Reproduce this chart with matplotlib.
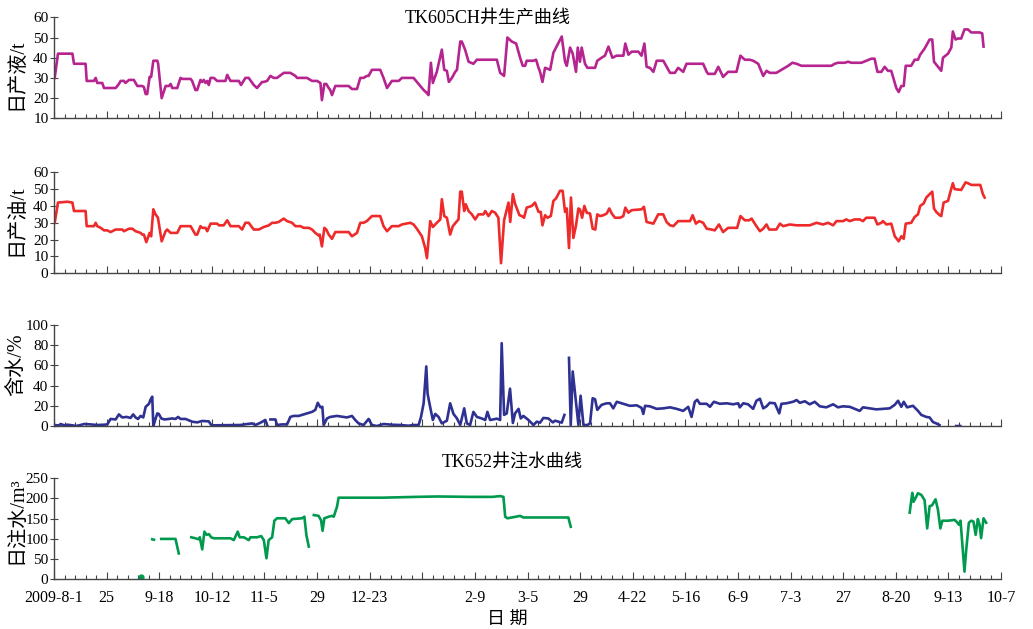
import numpy as np
import matplotlib
matplotlib.use("Agg")
import matplotlib.pyplot as plt
from matplotlib.ticker import AutoMinorLocator

plt.rcParams['font.family'] = ['Liberation Serif', 'Noto Sans CJK SC']

nan = np.nan

# x is days since 2009-8-1
tick_labels = ['2009-8-1', '25', '9-18', '10-12', '11-5', '29', '12-23', '', '2-9',
               '3-5', '29', '4-22', '5-16', '6-9', '7-3', '27', '8-20', '9-13', '10-7']

# daily liquid (t)
liq_day = [0.3, 1.8, 8.4, 9.1, 14.4, 14.9, 18.2, 19.0, 19.7, 22.0, 22.8, 28.1, 29.6, 30.4, 31.9, 32.6,
           34.2, 36.4, 38.0, 40.2, 41.0, 41.8, 42.5, 43.6, 44.3, 45.3, 47.1, 47.5, 49.1, 50.9, 52.4,
           53.2, 53.9, 56.2, 57.7, 58.5, 62.3, 63.0, 64.5, 65.3, 66.8, 67.6, 68.3, 69.1, 69.9, 70.6,
           71.4, 72.9, 74.4, 78.2, 79.0, 80.5, 84.3, 85.3, 87.3, 88.8, 91.1, 92.6, 94.9, 95.7, 97.2,
           98.7, 100.2, 101.7, 104.8, 107.8, 110.1, 110.9, 115.4, 117.7, 120.0, 121.5, 122.2, 123.3,
           124.2, 125.3, 126.0, 126.8, 128.3, 134.4, 135.9, 138.2, 139.7, 141.2, 142.7, 143.5, 145.0,
           148.8, 150.3, 151.9, 154.1, 157.2, 158.7, 164.0, 166.3, 168.6, 170.1, 170.8, 171.9, 172.8,
           174.6, 176.9, 178.0, 179.2, 180.1, 181.5, 183.0, 183.8, 185.3, 186.0, 187.5, 189.1, 191.3,
           192.9, 202.0, 203.5, 205.3, 206.8, 208.8, 210.8, 212.6, 213.8, 214.9, 215.6, 218.7, 219.9,
           221.0, 221.7, 222.8, 224.0, 226.3, 227.8, 229.0, 231.6, 233.1, 233.9, 235.4, 236.6, 238.1,
           238.9, 239.9, 240.7, 242.2, 243.3, 246.8, 247.8, 249.8, 251.3, 252.9, 254.7, 256.6, 259.7,
           260.6, 262.0, 263.5, 266.5, 268.0, 269.3, 270.3, 271.8, 273.4, 274.9, 277.9, 281.0, 283.2,
           284.7, 287.0, 288.5, 296.1, 297.7, 298.4, 301.4, 303.0, 305.2, 307.5, 311.3, 313.1, 315.1,
           317.4, 318.9, 321.2, 323.5, 325.0, 326.5, 329.5, 332.6, 334.9, 336.8, 338.7, 340.9, 354.6,
           356.1, 357.6, 360.7, 362.2, 363.7, 368.3, 370.5, 372.8, 374.3, 375.6, 377.4, 378.9, 380.4,
           381.9, 384.2, 385.3, 386.5, 387.6, 388.5, 391.0, 392.6, 394.1, 395.1, 397.1, 399.4, 400.6,
           401.4, 404.0, 404.7, 405.5, 407.8, 409.3, 410.0, 411.2, 412.3, 413.8, 415.3, 416.9, 418.4,
           422.2, 423.4, 424.0]
liq_val = [30, 42, 42, 37, 37, 28.5, 28.5, 30, 27.5, 27.5, 25, 25, 27, 28.5, 28.5, 27.5,
           29, 29, 26, 26, 25.5, 22, 22, 30.5, 30.5, 38.5, 38.5, 37, 20, 26, 26,
           27, 25, 25, 30, 29.5, 29.5, 28.5, 24, 24, 29, 28, 29, 27.5, 28.5, 26.5,
           30, 30, 28.5, 28.5, 31.5, 28.5, 28.5, 26.5, 30, 30, 26.5, 25, 28, 28, 28.5,
           31, 30, 30, 32.5, 32.5, 31, 30, 30, 28.5, 28.5, 27.5, 19, 27,
           27, 25, 24, 21.5, 26, 26, 24.5, 24.5, 30, 30, 31, 31, 34,
           34, 30, 25, 28.5, 28.5, 30, 30, 27, 24, 22.5, 21.5, 37.5, 27.5,
           33, 44, 34, 33.5, 28, 30, 33, 34, 48, 48, 44, 38, 37,
           39, 39, 32.5, 31, 50, 48, 47, 40, 36, 36, 38.5, 38.5, 39,
           35, 33, 28, 35, 34, 42.5, 45, 50.5, 38, 36, 45, 42, 33,
           45, 38, 45, 37, 35, 35, 38.5, 40, 41, 45.5, 40, 41, 41,
           47, 41.5, 43, 43, 41, 47, 35.5, 35, 33, 38.5, 38.5, 32.5, 32.5,
           35, 33, 37, 37, 33, 32, 32, 35.5, 30.5, 33, 33, 41, 39,
           39, 38.5, 37, 31, 33.5, 32.5, 32.5, 34.5, 36, 37.5, 37, 36, 36,
           37, 37.5, 37.5, 38, 37.5, 37.5, 38.5, 39.5, 39.5, 33, 33, 35.5, 33.5,
           33.5, 25, 23, 26, 26, 36, 36, 39, 39, 41.5, 44.5, 49, 49,
           38, 34.5, 33.5, 40, 42, 45, 53, 49, 49.5, 49.5, 54, 54, 52.5,
           52.5, 52, 45.5]

# daily oil (t)
oil_day = [0.3, 1.8, 6.1, 8.4, 9.1, 14.4, 14.9, 18.2, 19.0, 19.7, 21.3, 22.8, 24.3, 25.8, 28.1, 31.1,
           31.9, 34.2, 35.7, 37.2, 39.5, 40.2, 41.0, 42.1, 43.6, 44.3, 45.3, 46.3, 47.4, 49.1, 50.9,
           51.6, 53.2, 56.2, 57.7, 62.3, 64.5, 65.3, 66.8, 67.6, 69.1, 69.9, 71.4, 74.4, 75.2, 77.4,
           79.0, 80.5, 84.3, 85.8, 87.3, 88.8, 91.1, 93.4, 95.7, 98.0, 99.5, 101.0, 102.5, 104.8,
           106.3, 108.6, 110.1, 112.4, 113.9, 116.2, 117.7, 119.2, 120.7, 121.2, 122.2, 123.3, 124.2,
           125.3, 126.8, 128.3, 134.4, 135.9, 138.2, 139.7, 141.2, 142.7, 145.0, 148.8, 150.3, 151.9,
           154.1, 157.2, 158.7, 162.5, 164.0, 165.5, 167.8, 169.3, 170.1, 171.6, 172.8, 174.6, 176.2,
           176.9, 178.0, 179.2, 180.7, 181.9, 183.8, 184.5, 185.3, 186.0, 187.1, 187.8, 189.1, 190.6,
           192.1, 193.6, 195.9, 196.7, 198.2, 199.7, 201.2, 202.7, 203.9, 205.3, 207.3, 208.1, 209.3,
           210.3, 212.3, 213.4, 214.4, 215.6, 217.9, 219.4, 221.0, 222.0, 222.8, 224.0, 225.1, 226.6,
           227.8, 229.0, 230.8, 232.0, 233.1, 233.9, 234.9, 235.8, 236.9, 238.1, 239.2, 239.9, 240.9,
           241.9, 243.0, 244.5, 245.7, 246.9, 247.8, 249.1, 250.6, 252.1, 253.3, 254.4, 255.9, 258.2,
           259.7, 260.6, 262.0, 263.5, 268.0, 269.1, 270.3, 273.4, 275.6, 277.9, 279.4, 281.0, 282.5,
           284.7, 290.1, 291.3, 292.8, 294.3, 296.1, 297.7, 299.9, 301.4, 303.3, 305.2, 307.5, 311.6,
           313.1, 315.1, 317.1, 318.2, 320.4, 322.0, 323.5, 325.0, 326.2, 329.5, 331.1, 332.6, 335.6,
           338.7, 344.7, 347.8, 350.8, 353.1, 355.4, 356.9, 359.9, 361.4, 363.0, 365.2, 367.5, 369.0,
           370.5, 374.3, 375.6, 377.4, 378.1, 379.7, 381.9, 383.5, 385.3, 386.5, 387.6, 388.5, 391.0,
           392.6, 394.1, 395.1, 396.7, 397.9, 399.4, 400.6, 401.4, 402.4, 404.0, 404.7, 405.8, 407.8,
           408.8, 410.0, 410.8, 413.8, 415.8, 416.9, 418.4, 422.5, 423.7, 424.5]
oil_val = [30, 42, 42.5, 42, 37, 37, 28, 28, 30, 28, 27, 25.5, 25.5, 24.5, 26, 26,
           25, 26.5, 26.5, 25, 24, 23, 23, 18.5, 24, 22, 38, 35, 33, 19, 25,
           26, 24, 24, 28, 28, 23, 23, 28, 27, 27, 25, 29.5, 29.5, 28.5, 28.5,
           31.5, 28, 28, 26, 30, 30, 26, 26, 27.5, 28.5, 30, 30, 30.5, 32.5,
           31, 30, 28, 28, 27, 27, 26, 24, 22.5, 23, 16, 27, 26,
           23, 20.5, 24.5, 24.5, 22, 24, 30, 30, 31, 34, 34, 28, 25,
           28, 28, 29, 30, 29, 26.5, 22, 15, 9, 31, 27.5, 30, 32,
           44, 34, 33, 23, 28, 31, 32, 48.5, 48.5, 37, 41, 37, 35,
           32, 35, 35, 37, 34, 37, 36, 33, 6, 31.5, 42, 30.5, 47,
           41.3, 34.5, 34, 33, 39, 40, 42, 36.5, 36.5, 28.5, 34.5, 33, 34,
           43, 44.5, 49, 49, 36.5, 38.5, 15, 45, 21, 28.5, 38.5, 38, 33,
           40, 36, 35.5, 26.5, 26, 35, 34, 34.5, 35.5, 38.5, 35.5, 33, 33,
           34, 39, 36, 37.5, 38, 39.5, 30.5, 29.5, 35, 35, 30.5, 28.5, 28,
           31, 31, 34.5, 29.5, 31, 30, 26.5, 26, 25.5, 29, 24.5, 27, 27,
           34, 31.5, 31.5, 32.5, 28, 25, 26.5, 29, 26, 26, 29.5, 28, 29,
           28.5, 28.5, 30, 29, 30, 28.5, 31, 31, 32, 31, 32, 32, 31,
           33, 33, 29, 30, 31, 29, 29.5, 22, 19, 22, 20.5, 29.5, 30,
           33.5, 35, 40, 41.5, 45, 47, 48.5, 38.5, 36.5, 34.5, 34, 42, 43,
           48, 53.5, 50, 49.5, 54, 53.5, 52.5, 52.5, 47, 45]

# water cut (%)
wc_day = [0.3, 2.3, 3.0, 4.6, 6.1, 8.4, 9.9, 12.1, 13.7, 16.7, 19.7, 22.8, 24.3, 25.8, 28.1, 29.6,
          31.1, 33.1, 34.9, 36.1, 37.2, 38.3, 39.5, 40.7, 41.8, 43.3, 44.0, 44.8, 45.3, 45.9, 47.1,
          47.8, 48.9, 50.4, 52.4, 53.9, 55.4, 56.6, 57.7, 60.0, 63.0, 65.3, 67.6, 70.6, 71.7, 72.9,
          82.0, 85.0, 88.1, 90.4, 91.9, 94.2, 96.4, 97.2, 97.9, 98.7, 101.0, 101.7, 104.0, 106.3,
          107.8, 109.3, 111.6, 113.1, 115.4, 117.7, 119.2, 120.3, 121.5, 122.4, 123.0, 124.5, 126.0,
          129.1, 133.6, 135.9, 137.4, 138.9, 141.2, 143.5, 145.0, 147.3, 150.3, 154.1, 157.9, 161.7,
          164.0, 166.3, 167.4, 168.6, 169.8, 170.4, 171.6, 172.8, 173.9, 175.4, 176.9, 179.2, 180.7,
          182.2, 183.8, 185.3, 187.1, 188.3, 189.8, 191.3, 192.9, 195.1, 196.7, 197.7, 198.9, 200.5,
          202.0, 203.5, 204.2, 205.3, 206.5, 208.0, 209.3, 210.3, 211.9, 212.9, 214.1, 216.4, 218.7,
          220.2, 221.7, 223.2, 225.5, 227.5, 228.6, 230.1, 231.6, 232.8, 233.8, 234.9, 235.7, 236.6,
          237.7, 239.2, 240.2, 241.5, 243.3, 244.5, 245.7, 246.8, 247.8, 249.8, 252.1, 253.6, 255.1,
          256.7, 259.7, 262.7, 265.8, 268.0, 268.8, 269.6, 271.8, 274.9, 277.9, 281.0, 284.0, 287.0,
          289.3, 290.8, 292.3, 293.4, 294.6, 297.7, 299.2, 301.0, 303.7, 306.8, 309.8, 312.1, 312.8,
          314.4, 316.6, 318.9, 320.4, 322.0, 323.5, 325.0, 326.5, 328.8, 330.8, 331.8, 334.1, 337.1,
          338.7, 340.2, 342.5, 344.7, 347.0, 349.3, 352.3, 355.4, 357.6, 359.9, 363.0, 365.2, 367.5,
          369.0, 372.1, 375.1, 378.1, 381.2, 383.5, 385.0, 386.5, 387.6, 389.1, 391.8, 394.1, 395.6,
          397.9, 399.4, 400.9, 402.4, 403.9, 407.0, 411.5, 413.4]
wc_val = [1, 0.5, 2, 0.7, 1.3, 0.7, 0, 1, 2, 1.6, 1, 1.3, 1.6, 7, 6.5, 11.5,
          8.5, 9, 8, 11.5, 8.5, 7, 10, 8.5, 19, 22, 26, 29, 0, 4.3, 12.5,
          12, 7.5, 6.5, 7, 7.5, 7, 9, 7, 7, 4.3, 3.6, 5, 4.6, 1, 0.7,
          1, 1, 2, 2.6, 1, 3.3, 6, 1, nan, 6.5, 6.5, 1, 1.6, 1.6,
          9, 10, 10, 11, 12.5, 14, 16, 23, 18.5, 19, 1, 7.5, 9,
          10, 8.5, 10, 6, 2.6, 1, 7, 1, 0, 2, 1.3, 1, 0.3,
          1, 1, 9, 22.5, 59, 32, 18.5, 6, 12, 9, 2.6, 5.3, 22.5,
          12, 7.5, 1, 17.5, 2.6, 1, 14, 9, 7.5, 6, 14, 6, 6.6,
          7.3, 6, 82, 11, 12.5, 37, 3, 12.5, 17, 7.5, 10, 6, 1,
          4.3, 3.3, 8, 7.5, 3.6, 5.3, 4.3, 3.3, 11, nan, 67.5, 1, 54,
          32, 1, 30, 1, 1, 2.6, 27.5, 26.5, 16, 21, 22.5, 22.5, 17.5,
          24, 22, 20, 20.5, 18, 12, 20, 19.5, 17, 17.5, 18.5, 17, 15,
          19, 9, 24, 26, 22, 22, 19, 24, 22, 22.5, 21.5, 22.5, 18.5,
          22.5, 21.5, 17, 25, 27, 17.5, 19.5, 23, 22.5, 12.5, 22, 22.5, 24,
          25.7, 23, 24.5, 21.5, 24, 19.5, 18.5, 21.5, 18.5, 19.5, 19, 17, 15,
          18.5, 17.5, 16.5, 17, 17.5, 21, 25, 19, 24, 18.5, 20, 15, 11,
          9, 8.5, 4, 2.6, 1, nan, 0, 0]

# daily injection (m3), nan = no injection
inj_day = [44.8, 45.6, 46.5,
           48.9, 55.4, 56.2, 56.9, 58.0,
           62.6, 64.5, 66.1, 66.5, 67.6, 68.6, 69.6, 70.6, 71.7, 72.9, 80.5, 82.0, 83.8, 84.7, 86.6,
           88.8, 89.6, 92.6, 94.5, 95.7, 96.9, 97.9, 99.5, 100.5, 101.7, 105.5, 107.1, 108.6, 113.1,
           114.2, 115.1, 116.2, 117.0,
           118.5, 120.7, 121.8, 122.5, 123.3, 125.3, 126.8, 127.6, 129.1, 129.8, 132.1, 150.0, 165.0,
           175.0, 190.0, 200.0, 203.5, 205.0, 205.8, 206.8, 208.8, 212.6, 214.1, 234.6, 235.7, 237.0,
           390.3, 391.5, 392.1, 394.1, 395.6, 397.1, 398.3, 399.4, 400.5, 402.1, 403.2, 404.3, 405.2,
           407.8, 410.8, 411.8, 412.8, 413.5, 414.3, 415.3, 416.1, 417.3, 418.4, 419.4, 420.4, 421.4,
           422.2, 422.9, 424.0, 425.2]
inj_val = [99, 98, nan,
           100, 100, 81, 64, nan,
           104, 101.5, 99, 104, 74, 118, 110, 112, 104, 101.5, 101.5, 97, 118, 104, 104,
           97, 104, 104, 107, 97, 52, 97, 104, 145, 151, 151, 139, 149, 151,
           155, 110, 81, nan,
           159, 157, 146, 120, 151, 155, 157, 155, 180, 202, 202, 202, 204,
           205, 204, 204, 206, 204, 155, 151, 153, 157, 153, 153, 130, nan,
           165, 214, 192, 213, 209, 196, 126, 181, 183, 198, 172, 126, 145,
           145, 147, 142, 135, 145, 89, 19, 73, 140, 145, 143, 110, 149,
           135, 102, 151, 140]
inj_dot_day = [39.5]
inj_dot_val = [6]

fig = plt.figure(figsize=(10.33, 6.29), dpi=100)
left, width = 0.0523, 0.9168
boxes = [0.8119, 0.5655, 0.3227, 0.0790]
height = 0.1606

series = [(liq_day, liq_val, '#b5248f', (10, 60), 10),
          (oil_day, oil_val, '#ee2a2a', (0, 60), 10),
          (wc_day, wc_val, '#2e3192', (0, 100), 20),
          (inj_day, inj_val, '#009a4e', (0, 250), 50)]

axes = []
for i, (d, v, c, ylim, step) in enumerate(series):
    ax = fig.add_axes([left, boxes[i], width, height])
    ax.plot(d, v, color=c, lw=1.9, solid_joinstyle='round')
    ax.set_xlim(0, 432)
    ax.set_ylim(*ylim)
    ax.set_yticks(np.arange(ylim[0], ylim[1] + 1, step))
    ax.set_xticks(np.arange(0, 433, 24))
    ax.xaxis.set_minor_locator(AutoMinorLocator(5))
    for s in ['top', 'right']:
        ax.spines[s].set_visible(False)
    for s in ['left', 'bottom']:
        ax.spines[s].set_color('#444444')
        ax.spines[s].set_linewidth(1.0)
    ax.tick_params(axis='x', which='major', direction='in', length=5, width=0.8, color='#444444')
    ax.tick_params(axis='x', which='minor', direction='in', length=3, width=0.8, color='#444444')
    ax.tick_params(axis='y', direction='inout', length=6, width=0.8, color='#444444',
                   labelsize=11, pad=1)
    ax.set_xticklabels([])
    ax.patch.set_alpha(0)
    axes.append(ax)

axes[3].plot(inj_dot_day, inj_dot_val, 'o', color='#009a4e', ms=3.5)
axes[3].set_xticklabels(tick_labels)
axes[3].tick_params(axis='x', labelsize=11.5, pad=8)

fig.text(0.4724, 0.9706, 'TK605CH井生产曲线', ha='center', va='center', fontsize=13)
fig.text(0.4956, 0.2655, 'TK652井注水曲线', ha='center', va='center', fontsize=13)
fig.text(0.4913, 0.0143, '日 期', ha='center', va='center', fontsize=13)

ylabels = ['日产液/t', '日产油/t', '含水/%', '日注水/m³']
ypos = [0.8824, 0.6502, 0.4197, 0.1733]
for lab, y in zip(ylabels, ypos):
    fig.text(0.0165, y, lab, rotation=90, ha='center', va='center', fontsize=14.5)

fig.savefig('out.png', dpi=100)
